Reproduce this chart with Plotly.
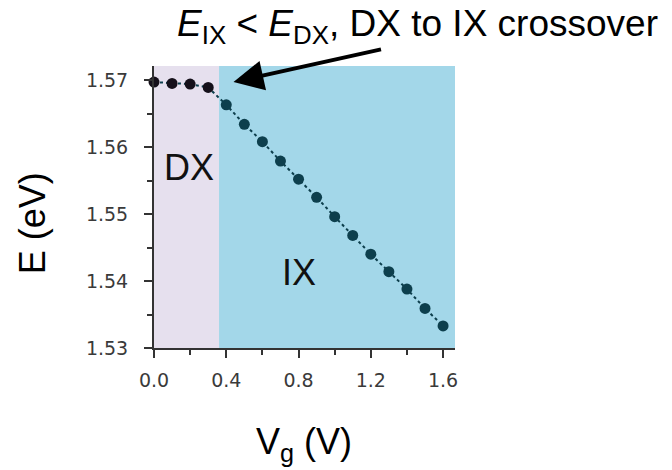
import plotly.graph_objects as go

# Gate voltage (V) and exciton emission energy (eV)
vg = [0.0, 0.1, 0.2, 0.3, 0.4, 0.5, 0.6, 0.7, 0.8, 0.9, 1.0, 1.1, 1.2, 1.3, 1.4, 1.5, 1.6]
energy = [1.5697, 1.5695, 1.5694, 1.5689, 1.5663, 1.5634, 1.5608, 1.5579, 1.5552,
          1.5525, 1.5496, 1.5468, 1.5440, 1.5414, 1.5388, 1.5359, 1.5333]
# regime of each point: direct (DX) before the crossover, indirect (IX) after
regime = ["DX"] * 4 + ["IX"] * 13

crossover_v = 0.36
x_range = [0.0, 1.666]
y_range = [1.53, 1.5721]

x_ticks = [0.0, 0.4, 0.8, 1.2, 1.6]
x_ticklabels = ["0.0", "0.4", "0.8", "1.2", "1.6"]
y_ticks = [1.53, 1.54, 1.55, 1.56, 1.57]
y_ticklabels = ["1.53", "1.54", "1.55", "1.56", "1.57"]

FONT = "Liberation Sans, Arial, sans-serif"
TICK_FONT = "DejaVu Sans, sans-serif"
DX_COLOR = "#15101a"
IX_COLOR = "#0d3f4d"

fig = go.Figure()

# shaded regimes
fig.add_shape(type="rect", xref="x", yref="y", x0=x_range[0], x1=crossover_v,
              y0=y_range[0], y1=y_range[1], fillcolor="#e6e0ee", line_width=0, layer="below")
fig.add_shape(type="rect", xref="x", yref="y", x0=crossover_v, x1=x_range[1],
              y0=y_range[0], y1=y_range[1], fillcolor="#a3d7e9", line_width=0, layer="below")

fig.add_trace(go.Scatter(
    x=vg, y=energy, mode="lines+markers",
    line=dict(color=IX_COLOR, width=2, dash="3px,3px"),
    marker=dict(size=11, color=[DX_COLOR if r == "DX" else IX_COLOR for r in regime],
                line=dict(width=0)),
    cliponaxis=False, showlegend=False,
))

fig.add_annotation(x=0.191, y=1.5570, xref="x", yref="y", text="DX", showarrow=False,
                   font=dict(family=FONT, size=36, color="#111111"))
fig.add_annotation(x=0.805, y=1.5413, xref="x", yref="y", text="IX", showarrow=False,
                   font=dict(family=FONT, size=36, color="#111111"))

# crossover arrow
fig.add_annotation(x=0.44, y=1.5697, xref="x", yref="y", text="", showarrow=True,
                   ax=149, ay=-33, axref="pixel", ayref="pixel",
                   arrowhead=2, arrowsize=1.5, arrowwidth=4, arrowcolor="#000000", standoff=0)

fig.add_annotation(x=0.877, y=1.232, xref="paper", yref="paper",
                   text="<i>E</i><sub>IX</sub> < <i>E</i><sub>DX</sub>, DX to IX crossover",
                   showarrow=False, xanchor="center", yanchor="top",
                   font=dict(family=FONT, size=37, color="#000000"))

# axis titles
fig.add_annotation(x=0.498, y=-0.34, xref="paper", yref="paper",
                   text="V<sub>g</sub> (V)", showarrow=False, xanchor="center", yanchor="middle",
                   font=dict(family=FONT, size=36, color="#000000"))
fig.add_annotation(x=-0.405, y=0.443, xref="paper", yref="paper",
                   text="E (eV)", showarrow=False, textangle=-90, xanchor="center", yanchor="middle",
                   font=dict(family=FONT, size=36, color="#000000"))

axis_common = dict(
    showgrid=False, zeroline=False, showline=True, linecolor="#333333", linewidth=2,
    ticks="outside", ticklen=8, tickwidth=1.5, tickcolor="#333333",
    tickfont=dict(family=TICK_FONT, size=19, color="#3a3a3a"),
)

fig.update_xaxes(range=x_range, tickvals=x_ticks, ticktext=x_ticklabels,
                 minor=dict(dtick=0.2, tick0=0, ticks="outside", ticklen=5, tickwidth=1.5,
                            tickcolor="#333333", showgrid=False),
                 ticklabelstandoff=6, **axis_common)
fig.update_yaxes(range=y_range, tickvals=y_ticks, ticktext=y_ticklabels,
                 minor=dict(dtick=0.005, tick0=1.53, ticks="outside", ticklen=5, tickwidth=1.5,
                            tickcolor="#333333", showgrid=False),
                 ticklabelstandoff=12, **axis_common)

fig.update_layout(
    width=672, height=470,
    margin=dict(l=154, r=217, t=66, b=122),
    paper_bgcolor="#ffffff", plot_bgcolor="#ffffff",
    font=dict(family=FONT),
)

fig.write_html("out.html")
